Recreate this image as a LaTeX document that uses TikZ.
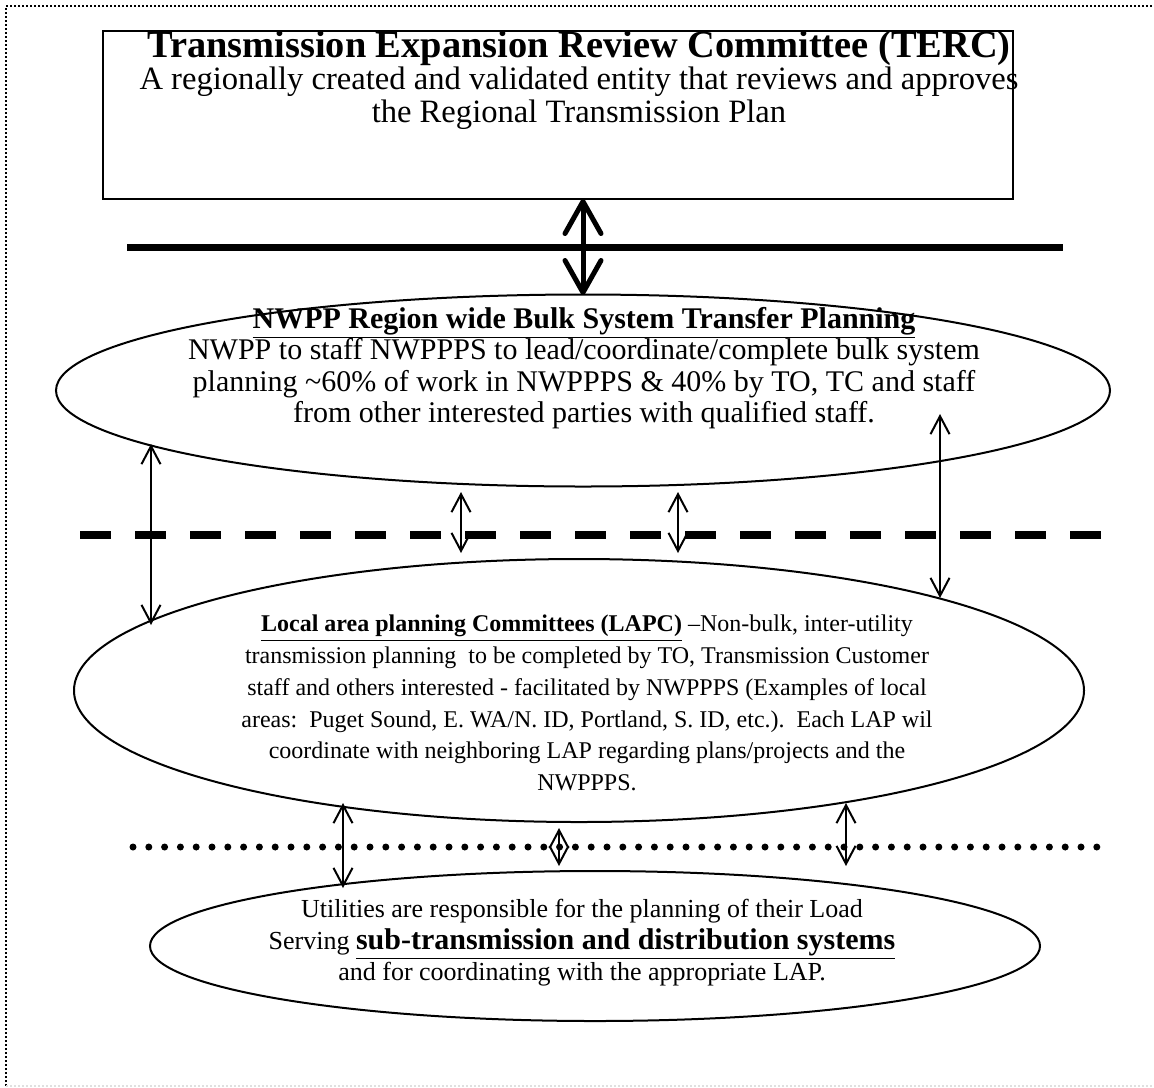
\documentclass[tikz,border=0pt]{standalone}
\usepackage{fontspec}
\setmainfont{Liberation Serif}
\usetikzlibrary{arrows.meta,shapes.geometric}
\lineskiplimit=-100pt
\begin{document}
\begin{tikzpicture}[x=0.5pt,y=-0.5pt,
  shapeline/.style={draw=black,line width=1pt},
  thinarrow/.style={line width=1pt,{Straight Barb[length=9pt,width=9.5pt]}-{Straight Barb[length=9pt,width=9.5pt]}},
  thickarrow/.style={line width=2.5pt,{Straight Barb[length=16pt,width=18pt,round]}-{Straight Barb[length=16pt,width=18pt,round]}},
  toptext/.style={align=center,font=\fontsize{16.3}{16.25}\selectfont,inner sep=0pt},
  e1text/.style={align=center,font=\fontsize{15}{15.65}\selectfont,inner sep=0pt},
  e2text/.style={align=center,font=\fontsize{12}{15.85}\selectfont,inner sep=0pt},
  e3text/.style={align=center,font=\fontsize{13}{15.75}\selectfont,inner sep=0pt}
]
\useasboundingbox (0,0) rectangle (1154,1087);
% border
\draw[line width=1pt,dash pattern=on 1pt off 1pt] (6,1090) -- (6,6) -- (1160,6);
\draw[line width=1pt,dash pattern=on 1pt off 1pt,black!12] (6,1086) -- (1160,1086);

% top box
\node[shapeline,rectangle,minimum width=455pt,minimum height=84pt,inner sep=0pt] (terc) at (558,115) {};
\node[toptext] (tercT) at (579,80) {{\fontsize{19.2}{16.25}\selectfont\bfseries Transmission Expansion Review Committee (TERC)}\\A regionally created and validated entity that reviews and approves\\the Regional Transmission Plan};

% thick solid line
\coordinate (s1) at (127,247);
\coordinate (s2) at (1063,247);
\draw[line width=3.5pt] (s1) -- (s2);

% ellipse 1
\node[shapeline,ellipse,minimum width=527pt,minimum height=96pt,inner sep=0pt] (e1) at (583,390.5) {};
\node[e1text] (e1T) at (584,368) {\textbf{\underline{NWPP Region wide Bulk System Transfer Planning}}\\NWPP to staff NWPPPS to lead/coordinate/complete bulk system\\planning \char`\~60\% of work in NWPPPS \& 40\% by TO, TC and staff\\from other interested parties with qualified staff.};

% thick arrow
\coordinate (ta1) at (583,199);
\coordinate (ta2) at (583,295);
\draw[thickarrow] (ta1) -- (ta2);

% dashed line
\coordinate (d1) at (80,535);
\coordinate (d2) at (1112,535);
\draw[line width=4pt,dash pattern=on 15.5pt off 12pt] (d1) -- (d2);

% ellipse 2
\node[shapeline,ellipse,minimum width=505pt,minimum height=131.5pt,inner sep=0pt] (e2) at (579,690.5) {};
\node[e2text] (e2T) at (587,703) {\textbf{\underline{Local area planning Committees (LAPC)}} --Non-bulk, inter-utility\\transmission planning\ \ to be completed by TO, Transmission Customer\\staff and others interested - facilitated by NWPPPS (Examples of local\\areas:\ \ Puget Sound, E. WA/N. ID, Portland, S. ID, etc.).\ \ Each LAP wil\\coordinate with neighboring LAP regarding plans/projects and the\\NWPPPS.};

% arrows between e1 and e2
\coordinate (a1t) at (151,444); \coordinate (a1b) at (151,625);
\coordinate (a2t) at (461,492); \coordinate (a2b) at (461,553);
\coordinate (a3t) at (678,492); \coordinate (a3b) at (678,553);
\coordinate (a4t) at (940,414); \coordinate (a4b) at (940,598);
\draw[thinarrow] (a1t) -- (a1b);
\draw[thinarrow] (a2t) -- (a2b);
\draw[thinarrow] (a3t) -- (a3b);
\draw[thinarrow] (a4t) -- (a4b);

% dotted line
\coordinate (p1) at (133,847);
\coordinate (p2) at (1100,847);
\draw[line width=3.5pt,line cap=round,dash pattern=on 0pt off 7.9pt] (p1) -- (p2);

% ellipse 3
\node[shapeline,ellipse,minimum width=445pt,minimum height=75pt,inner sep=0pt] (e3) at (595,946) {};
\node[e3text] (e3T) at (582,943) {Utilities are responsible for the planning of their Load\\Serving {\fontsize{15}{15.75}\selectfont\bfseries\underline{sub-transmission and distribution systems}}\\and for coordinating with the appropriate LAP.};

% arrows between e2 and e3
\coordinate (b1t) at (343,803); \coordinate (b1b) at (343,888);
\coordinate (b2t) at (559,828); \coordinate (b2b) at (559,866);
\coordinate (b3t) at (846,803); \coordinate (b3b) at (846,866);
\draw[thinarrow] (b1t) -- (b1b);
\draw[thinarrow] (b2t) -- (b2b);
\draw[thinarrow] (b3t) -- (b3b);
\end{tikzpicture}
\end{document}
